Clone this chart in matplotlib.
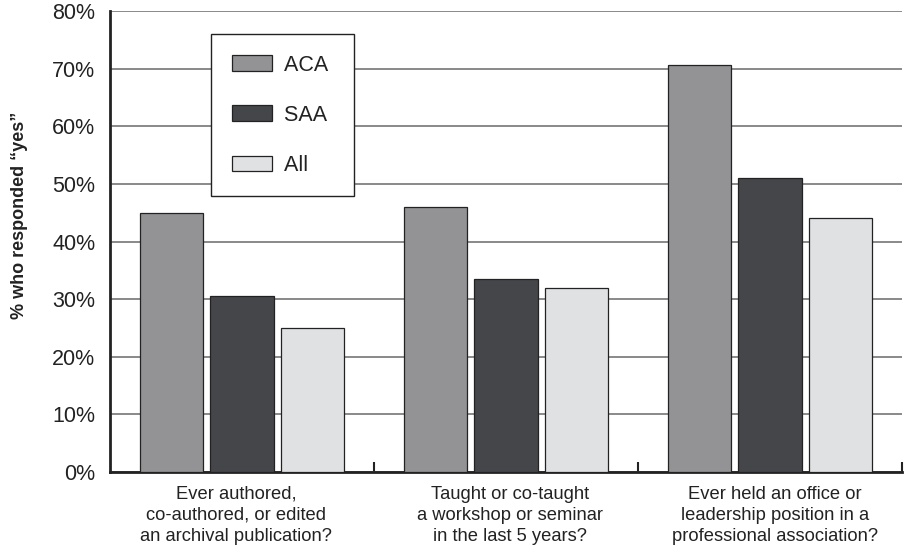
import numpy as np
import matplotlib
matplotlib.use("Agg")
import matplotlib.pyplot as plt
from matplotlib.transforms import ScaledTranslation

plt.rcParams['font.family'] = ['Liberation Sans', 'DejaVu Sans']

categories = ["Ever authored,\nco-authored, or edited\nan archival publication?",
              "Taught or co-taught\na workshop or seminar\nin the last 5 years?",
              "Ever held an office or\nleadership position in a\nprofessional association?"]
series = ["ACA", "SAA", "All"]
aca = [45.0, 46.0, 70.6]
saa = [30.5, 33.5, 51.0]
all_ = [25.0, 32.0, 44.0]
colors = ["#939396", "#454649", "#e0e1e3"]

fig = plt.figure(figsize=(9.1, 5.57), dpi=100)
ax = fig.add_axes([110 / 910, 1 - 472 / 557, 792 / 910, 461 / 557])

x = np.arange(len(categories))
offsets = [-0.267, 0.0, 0.267]
width = 0.24
for vals, off, col, name in zip([aca, saa, all_], offsets, colors, series):
    ax.bar(x + off, vals, width, color=col, edgecolor="#222222", linewidth=0.9,
           label=name + " ", zorder=3)

ax.set_xlim(-0.5, 2.5)
ax.set_ylim(0, 80)
ax.set_yticks(np.arange(0, 81, 10))
ax.set_yticklabels([f"{v}%" for v in range(0, 81, 10)], fontsize=15.5,
                   color="#222222")
ax.yaxis.grid(True, color="#808080", linewidth=1.3, zorder=0)
ax.tick_params(axis="y", length=0, pad=10.5)

ax.set_xticks(x)
ax.set_xticklabels(categories, fontsize=13.2, linespacing=1.3, color="#222222")
ax.set_xticks([0.5, 1.5, 2.5], minor=True)
ax.tick_params(axis="x", which="major", length=0, pad=10)
ax.tick_params(axis="x", which="minor", direction="in", length=7, width=1.5,
               color="#222222")
# the labels in the original sit a little off the group centres
for lab, dx in zip(ax.get_xticklabels(), [-6, 4, 5]):
    lab.set_transform(lab.get_transform() + ScaledTranslation(dx / 100, 0, fig.dpi_scale_trans))

for side in ["top", "right"]:
    ax.spines[side].set_visible(False)
ax.spines["left"].set_linewidth(2)
ax.spines["left"].set_color("#222222")
ax.spines["bottom"].set_linewidth(2)
ax.spines["bottom"].set_color("#222222")

ax.set_ylabel("% who responded \u201cyes\u201d", fontsize=13, fontweight="bold",
              color="#222222")
ax.yaxis.set_label_coords(-0.103, 0.557)

leg = ax.legend(loc="upper left", bbox_to_anchor=(0.128, 0.95), fontsize=15.5,
                frameon=True, fancybox=False, framealpha=1, edgecolor="#222222",
                handlelength=1.86, handleheight=0.7, labelspacing=1.35,
                borderpad=0.95, handletextpad=0.56, borderaxespad=0)
leg.get_frame().set_linewidth(1.0)
leg.set_zorder(5)
for t in leg.get_texts():
    t.set_color("#222222")

fig.savefig("out.png", dpi=100)
